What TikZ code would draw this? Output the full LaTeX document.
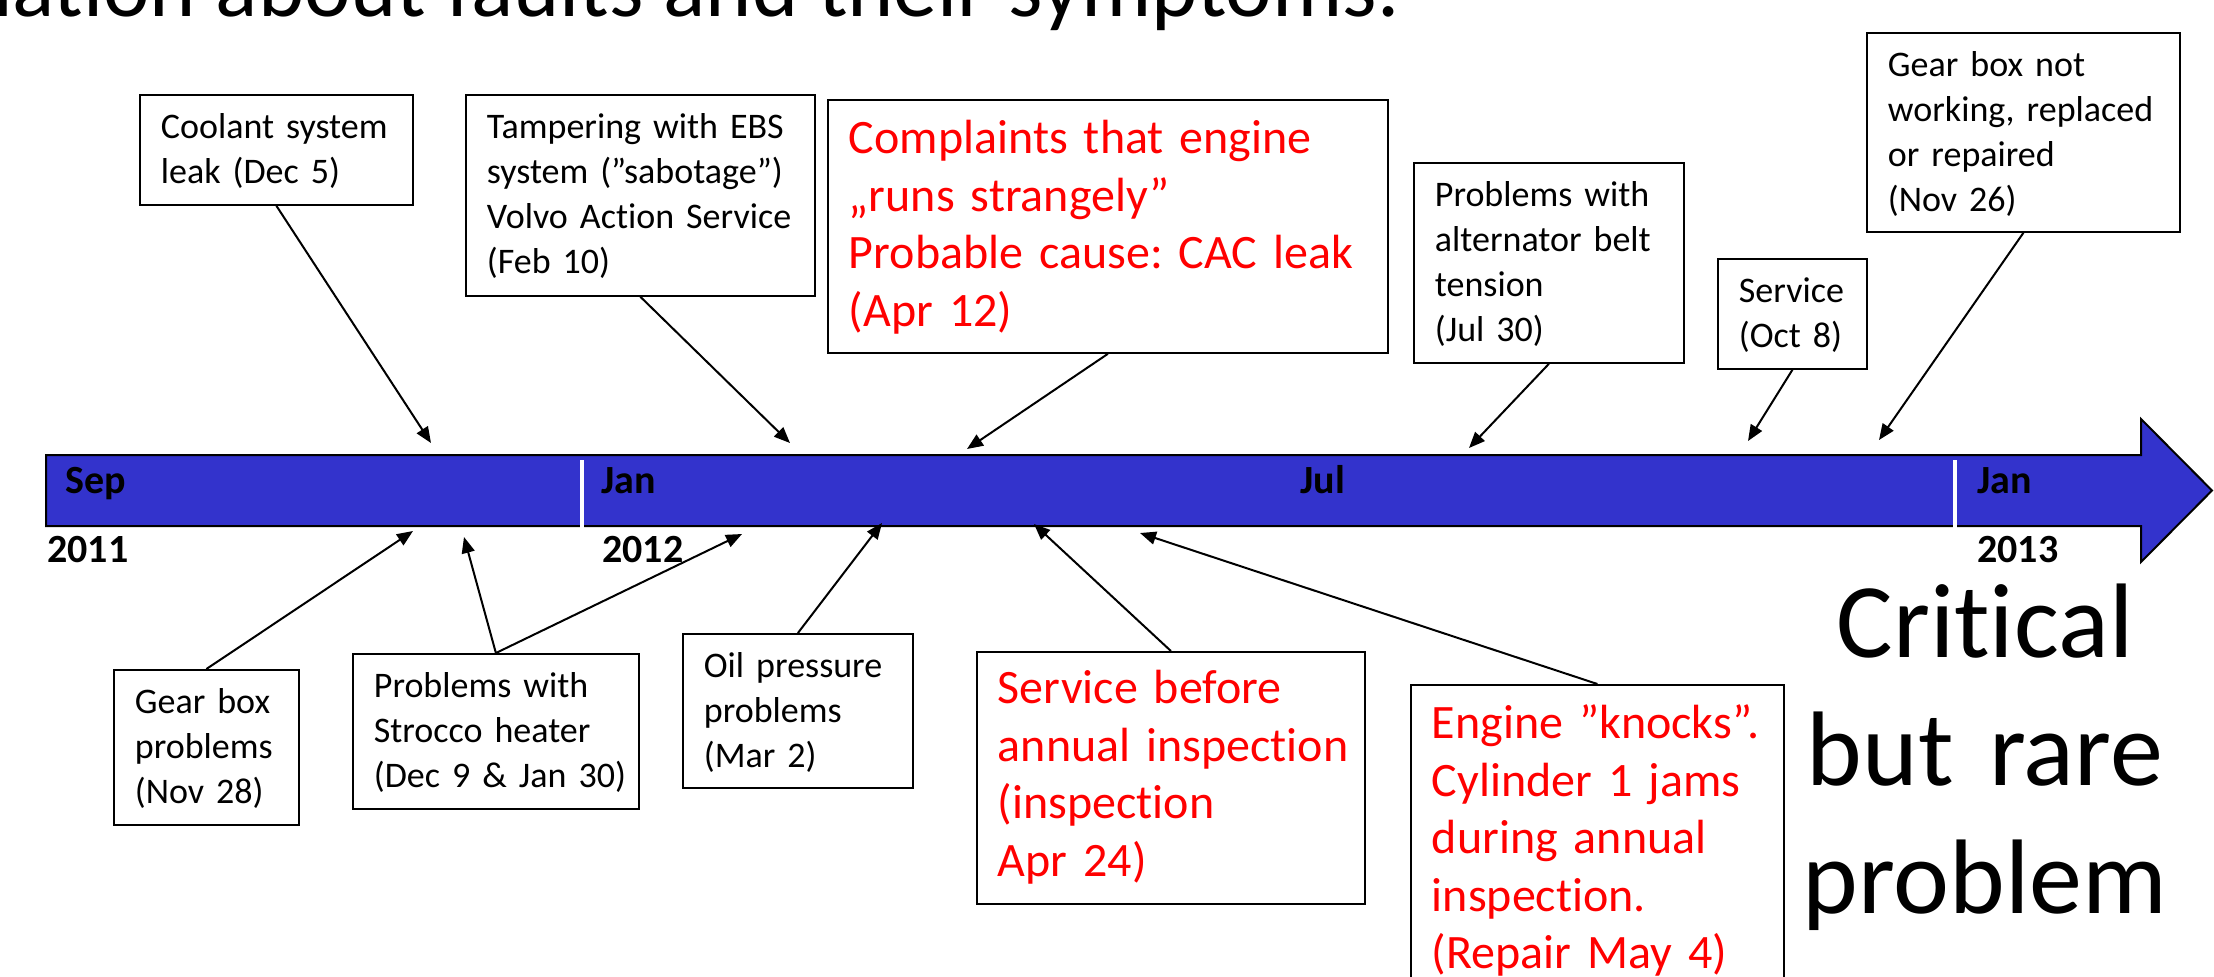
\documentclass[tikz,border=0pt]{standalone}
\usepackage{fontspec}
\setmainfont{Carlito}[Ligatures={NoCommon}]
\usetikzlibrary{arrows.meta}
\definecolor{barblue}{RGB}{51,51,204}
\definecolor{evred}{RGB}{255,0,0}
\frenchspacing
\begin{document}
\begin{tikzpicture}[x=0.5pt,y=-0.5pt,
  evbox/.style={draw, line width=0.9pt, anchor=north west, inner xsep=10.5pt, inner ysep=0pt,
    align=left, font=\fontsize{18pt}{22.5pt}\selectfont, text height=22pt},
  redbox/.style={evbox, text=evred, font=\fontsize{24pt}{28.75pt}\selectfont, text height=27pt},
  conn/.style={line width=1pt, -{Triangle[length=8pt,width=6.5pt]}},
  tlabel/.style={anchor=base west, inner sep=0pt, font=\bfseries\fontsize{20pt}{24pt}\selectfont},
  divider/.style={draw=white, line width=2pt}]
\useasboundingbox (0,0) rectangle (2214,976);
\clip (0,0) rectangle (2214,976);
\fill[white] (0,0) rectangle (2214,976);

% title (cut off at top)
\node[anchor=base east, inner sep=0pt, font=\fontsize{44pt}{52pt}\selectfont] (title) at (1400,16) {Information about faults and their symptoms.};

% timeline arrow
\draw[fill=barblue, line width=1pt] (46,455) -- (2141,455) -- (2141,419) -- (2212,490.5) -- (2141,562) -- (2141,526) -- (46,526) -- cycle;
\draw[divider] (582,460) -- (582,528);
\draw[divider] (1955,460) -- (1955,528);
\node[tlabel] (sep) at (65,493) {Sep};
\node[tlabel] (jan12) at (601,493) {Jan};
\node[tlabel] (jul) at (1300,493) {Jul};
\node[tlabel] (jan13) at (1977,493) {Jan};
\node[tlabel] (y11) at (47,562) {2011};
\node[tlabel] (y12) at (602,562) {2012};
\node[tlabel] (y13) at (1977,562) {2013};

% upper boxes
\node[evbox, text width=115.5pt, text depth=33pt] (coolant) at (139,94)
  {\mbox{Coolant system}\\\mbox{leak (Dec 5)}};
\node[evbox, text width=153.5pt, text depth=78.5pt] (tamper) at (465,94)
  {\mbox{Tampering with EBS}\\\mbox{system (”sabotage”)}\\\mbox{Volvo Action Service}\\\mbox{(Feb 10)}};
\node[redbox, text width=259pt, text depth=99.5pt] (complaints) at (827,99)
  {\mbox{Complaints that engine}\\\mbox{„runs strangely”}\\\mbox{Probable cause: CAC leak}\\\mbox{(Apr 12)}};
\node[evbox, text width=114pt, text depth=78pt] (alternator) at (1413,162)
  {\mbox{Problems with}\\\mbox{alternator belt}\\\mbox{tension}\\\mbox{(Jul 30)}};
\node[evbox, text width=53.5pt, text depth=33pt] (serviceoct) at (1717,258)
  {\mbox{Service}\\\mbox{(Oct 8)}};
\node[evbox, text width=135.5pt, text depth=77.5pt] (gearnot) at (1866,32)
  {\mbox{Gear box not}\\\mbox{working, replaced}\\\mbox{or repaired}\\\mbox{(Nov 26)}};

% lower boxes
\node[evbox, text width=71.5pt, text depth=55.5pt] (gearprob) at (113,669)
  {\mbox{Gear box}\\\mbox{problems}\\\mbox{(Nov 28)}};
\node[evbox, text width=122pt, text depth=55.5pt] (strocco) at (352,653)
  {\mbox{Problems with}\\\mbox{Strocco heater}\\\mbox{(Dec 9 \& Jan 30)}};
\node[evbox, text width=94pt, text depth=55pt] (oil) at (682,633)
  {\mbox{Oil pressure}\\\mbox{problems}\\\mbox{(Mar 2)}};
\node[redbox, text width=173pt, text height=26pt, text depth=100pt] (servbefore) at (976,651)
  {\mbox{Service before}\\\mbox{annual inspection}\\\mbox{(inspection}\\\mbox{Apr 24)}};
\node[redbox, text width=165.5pt, text depth=140pt] (engine) at (1410,684)
  {\mbox{Engine ”knocks”.}\\\mbox{Cylinder 1 jams}\\\mbox{during annual}\\\mbox{inspection.}\\\mbox{(Repair May 4)}};

% big text
\node[anchor=north, text width=200pt, align=center, inner sep=0pt, text height=40pt,
  font=\fontsize{53pt}{64pt}\selectfont] (crit) at (1985,577) {Critical\\but rare\\problem};

% arrow end points on the timeline
\coordinate (t1) at (431,443);
\coordinate (t2) at (790,443);
\coordinate (t3) at (967,449);
\coordinate (t4) at (1469,448);
\coordinate (t5) at (1748,441);
\coordinate (t6) at (1879,440);
\coordinate (b1) at (413,531);
\coordinate (b2a) at (464,537);
\coordinate (b2b) at (742,534);
\coordinate (b3) at (882,523);
\coordinate (b4) at (1034,524);
\coordinate (b5) at (1140,533);

\draw[conn] (coolant.south) -- (t1);
\draw[conn] (tamper.south) -- (t2);
\draw[conn] (complaints.south) -- (t3);
\draw[conn] (alternator.south) -- (t4);
\draw[conn] (serviceoct.south) -- (t5);
\draw[conn] (gearnot.south) -- (t6);
\draw[conn] (gearprob.north) -- (b1);
\draw[conn] (strocco.north) -- (b2a);
\draw[conn] (strocco.north) -- (b2b);
\draw[conn] (oil.north) -- (b3);
\draw[conn] (servbefore.north) -- (b4);
\draw[conn] (engine.north) -- (b5);
\end{tikzpicture}
\end{document}
